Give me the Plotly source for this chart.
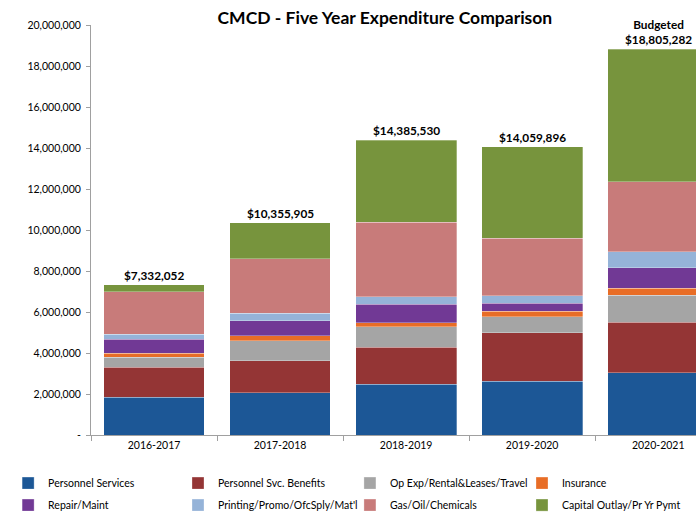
import plotly.graph_objects as go

years = ["2016-2017", "2017-2018", "2018-2019", "2019-2020", "2020-2021"]
totals = [7332052, 10355905, 14385530, 14059896, 18805282]
total_labels = ["$7,332,052", "$10,355,905", "$14,385,530", "$14,059,896", "Budgeted<br>$18,805,282"]

personnel_services = [1830000, 2050000, 2470000, 2630000, 3040000]
personnel_benefits = [1470000, 1570000, 1820000, 2370000, 2470000]
op_exp = [500000, 990000, 980000, 770000, 1300000]
insurance = [200000, 220000, 210000, 260000, 340000]
repair_maint = [680000, 740000, 910000, 390000, 1000000]
printing = [230000, 360000, 360000, 380000, 780000]
gas_oil = [2090000, 2670000, 3620000, 2790000, 3430000]
capital_outlay = [332052, 1755905, 4015530, 4469896, 6445282]

series = [
    ("Personnel Services", personnel_services, "#1C5796"),
    ("Personnel Svc. Benefits", personnel_benefits, "#943535"),
    ("Op Exp/Rental&Leases/Travel", op_exp, "#A5A5A5"),
    ("Insurance", insurance, "#E86D26"),
    ("Repair/Maint", repair_maint, "#713995"),
    ("Printing/Promo/OfcSply/Mat'l", printing, "#95B3D8"),
    ("Gas/Oil/Chemicals", gas_oil, "#C87B7A"),
    ("Capital Outlay/Pr Yr Pymt", capital_outlay, "#77943D"),
]

y_ticks = [0, 2000000, 4000000, 6000000, 8000000, 10000000, 12000000, 14000000, 16000000, 18000000, 20000000]
y_tick_text = ["-", "2,000,000", "4,000,000", "6,000,000", "8,000,000", "10,000,000",
               "12,000,000", "14,000,000", "16,000,000", "18,000,000", "20,000,000"]

legend_ids = ["legend", "legend2", "legend3", "legend4"]

fig = go.Figure()
for i, (name, vals, color) in enumerate(series):
    fig.add_trace(go.Bar(x=years, y=vals, name=name, marker_color=color,
                         marker_line_width=0.6, marker_line_color="rgba(255,255,255,0.5)",
                         legend=legend_ids[i % 4], legendgroup=name))

for yr, tot, lab in zip(years, totals, total_labels):
    fig.add_annotation(x=yr, y=tot, text="<b>" + lab + "</b>", showarrow=False,
                       yanchor="bottom", yshift=0, font=dict(size=11.8, color="#000000"))

legend_common = dict(orientation="v", y=-0.082, yanchor="top", xanchor="left",
                     traceorder="grouped", tracegroupgap=3, itemwidth=30,
                     font=dict(size=10.5, color="#000000"), bgcolor="rgba(0,0,0,0)")
legend_x = [-0.137, 0.1438, 0.428, 0.7124]

fig.update_layout(
    width=696, height=516,
    barmode="stack", bargap=0.2,
    plot_bgcolor="white", paper_bgcolor="white",
    font=dict(family="Lato, 'Open Sans', sans-serif", size=10, color="#000000"),
    margin=dict(l=91, r=0, t=25, b=81, autoexpand=False),
    title=dict(text="<b>CMCD - Five Year Expenditure Comparison</b>", x=0.553, xanchor="center",
               y=0.965, yanchor="middle", font=dict(size=17.5, color="#000000"), automargin=False),
    xaxis=dict(type="category", range=[-0.5, 4.30], showline=True, linecolor="#A0A0A0",
               ticks="outside", tickson="boundaries", ticklen=5, tickcolor="#A0A0A0",
               showgrid=False, tickfont=dict(size=10.5), automargin=False),
    yaxis=dict(range=[0, 20000000], tickvals=y_ticks, ticktext=y_tick_text,
               showline=True, linecolor="#A0A0A0", ticks="outside", ticklen=4,
               tickcolor="#A0A0A0", showgrid=False, zeroline=False, tickfont=dict(size=10.5),
               ticklabelstandoff=3, automargin=False),
    legend=dict(x=legend_x[0], **legend_common),
    legend2=dict(x=legend_x[1], **legend_common),
    legend3=dict(x=legend_x[2], **legend_common),
    legend4=dict(x=legend_x[3], **legend_common),
)

fig.write_html("out.html", config={"displayModeBar": False},
               post_script="document.body.style.margin='0px';")
